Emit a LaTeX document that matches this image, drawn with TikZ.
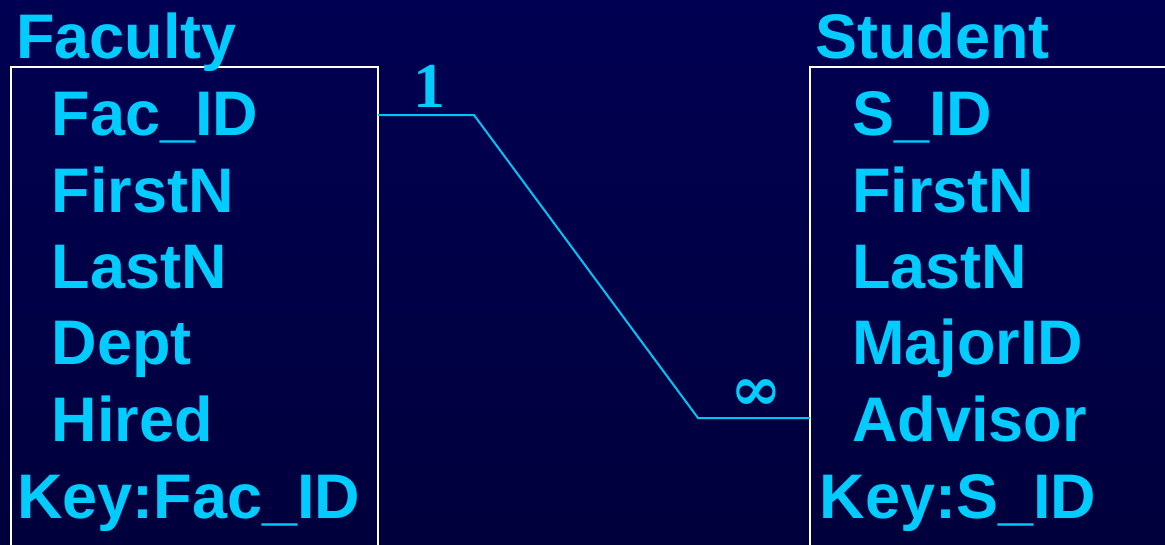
\documentclass[tikz,border=0pt]{standalone}
\usepackage{fontspec}
\setmainfont{Liberation Sans}
\newfontfamily\seriffont{Liberation Serif}
\newfontfamily\symfont{DejaVu Serif}
\definecolor{bgtop}{RGB}{0,0,82}
\definecolor{bgbot}{RGB}{0,0,60}
\definecolor{txt}{RGB}{0,204,255}
\definecolor{lnk}{RGB}{0,196,245}
\tikzset{
  lbl/.style={anchor=base west, inner sep=0pt, text=txt, font=\fontsize{63}{63}\selectfont\bfseries},
  card/.style={anchor=base, inner sep=0pt, text=txt, font=\seriffont\fontsize{64}{64}\selectfont\bfseries},
  cardsym/.style={anchor=center, inner sep=0pt, text=txt, font=\symfont\fontsize{62}{62}\selectfont\bfseries},
  tablebox/.style={draw=white, line width=2pt},
  link/.style={draw=lnk, line width=2pt}
}
\begin{document}
\begin{tikzpicture}[x=1pt,y=-1pt]
\useasboundingbox (0,0) rectangle (1165,544);
\shade[top color=bgtop, bottom color=bgbot] (0,0) rectangle (1165,544);
\clip (0,0) rectangle (1165,544);
% boxes
\draw[tablebox] (11,560) -- (11,67) -- (378,67) -- (378,560);
\draw[tablebox] (810,560) -- (810,67) -- (1180,67);
% Faculty
\node[lbl] (fac) at (16,58) {Faculty};
\node[lbl] (facid) at (51.5,135) {Fac\_ID};
\node[lbl] (ffirst) at (51.5,212) {FirstN};
\node[lbl] (flast) at (51.5,288) {LastN};
\node[lbl] (fdept) at (51.5,364) {Dept};
\node[lbl] (fhired) at (51.5,441) {Hired};
\node[lbl] (fkey) at (17,518) {Key:Fac\_ID};
% Student
\node[lbl] (stu) at (815,58) {Student};
\node[lbl] (sid) at (852,135) {S\_ID};
\node[lbl] (sfirst) at (852,212) {FirstN};
\node[lbl] (slast) at (852,288) {LastN};
\node[lbl] (smajor) at (852,364) {MajorID};
\node[lbl] (sadv) at (852,441) {Advisor};
\node[lbl] (skey) at (819.5,518) {Key:S\_ID};
% connector
\coordinate (c1) at (378,115);
\coordinate (c2) at (810,418);
\draw[link] (c1) -- (474,115) -- (698,418) -- (c2);
\node[card] (one) at (429,107) {1};
\node[cardsym] (many) at (756.5,395) {∞};
\end{tikzpicture}
\end{document}
